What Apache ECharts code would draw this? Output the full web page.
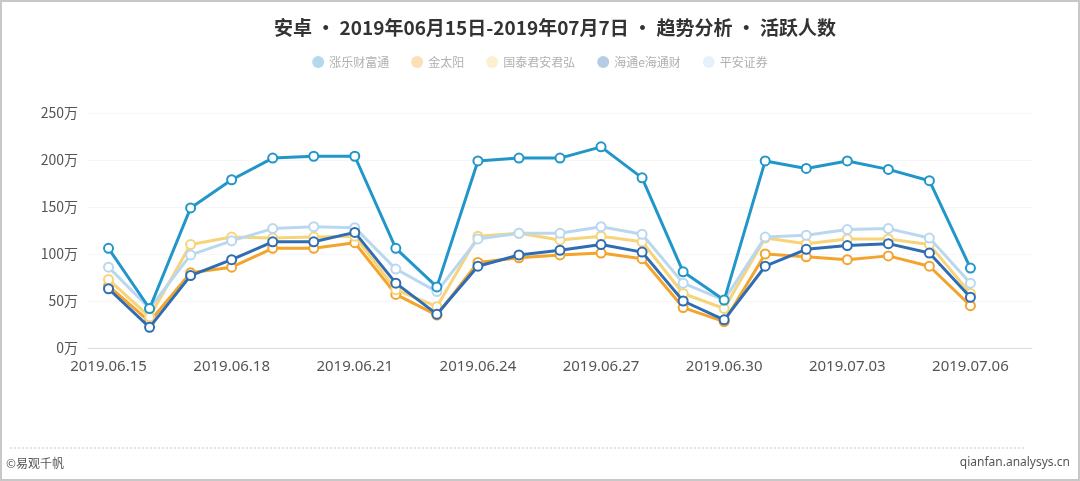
<!DOCTYPE html>
<html>
<head>
<meta charset="utf-8">
<script src="https://cdn.jsdelivr.net/npm/echarts@6/dist/echarts.min.js"></script>
<style>
  html, body { margin: 0; padding: 0; background: #fff; }
  #chart { width: 1080px; height: 481px; }
</style>
</head>
<body>
<div id="chart"></div>
<script>
// 日期（最后一天无数据）
var dates = ['2019.06.15','2019.06.16','2019.06.17','2019.06.18','2019.06.19','2019.06.20','2019.06.21',
  '2019.06.22','2019.06.23','2019.06.24','2019.06.25','2019.06.26','2019.06.27','2019.06.28','2019.06.29',
  '2019.06.30','2019.07.01','2019.07.02','2019.07.03','2019.07.04','2019.07.05','2019.07.06','2019.07.07'];

var names = ['涨乐财富通', '金太阳', '国泰君安君弘', '海通e海通财', '平安证券'];
var colors = ['#2196c9', '#f3a42c', '#f7d47a', '#2f6db3', '#b9d8f0'];

// 活跃人数（万）
var zhangle = [106,42,149,179,202,204,204,106,65,199,202,202,214,181,81,51,199,191,199,190,178,85];
var jintaiyang = [66,28,80,86,106,106,112,57,35,91,96,99,101,95,43,28,100,97,94,98,87,45];
var junhong = [73,33,110,118,117,118,119,62,44,119,122,115,119,113,58,42,117,111,116,116,110,58];
var haitong = [63,22,77,94,113,113,123,69,36,87,99,104,110,102,50,30,87,105,109,111,101,54];
var pingan = [86,42,99,114,127,129,128,84,60,116,122,122,129,121,69,51,118,120,126,127,117,69];

var seriesData = [zhangle, jintaiyang, junhong, haitong, pingan];
var zOrder = [5, 1, 2, 4, 3];

var myChart = echarts.init(document.getElementById('chart'));

var series = names.map(function (n, i) {
  return {
    name: n,
    type: 'line',
    data: seriesData[i],
    z: zOrder[i],
    symbol: 'emptyCircle',
    symbolSize: 9,
    lineStyle: { width: 3, color: colors[i] },
    itemStyle: { color: colors[i], borderWidth: 2 }
  };
});

myChart.setOption({
  animation: false,
  color: colors,
  title: {
    text: '安卓 • 2019年06月15日-2019年07月7日 • 趋势分析 • 活跃人数',
    left: 550,
    textAlign: 'center',
    top: 13,
    textStyle: {
      color: '#333',
      fontSize: 19,
      fontWeight: 'bold',
      fontFamily: 'Noto Sans CJK SC'
    }
  },
  legend: {
    data: names,
    top: 51,
    left: 'center',
    icon: 'circle',
    itemWidth: 12,
    itemHeight: 12,
    itemGap: 22,
    itemStyle: { opacity: 0.35 },
    textStyle: { color: '#b0b0b0', fontSize: 12, fontFamily: 'Noto Sans CJK SC' }
  },
  grid: {
    left: 88,
    right: 48,
    top: 113,
    bottom: 133
  },
  xAxis: {
    type: 'category',
    data: dates,
    boundaryGap: true,
    axisLine: { lineStyle: { color: '#dcdcdc' } },
    axisTick: { interval: 2, length: 5, lineStyle: { color: '#dcdcdc' } },
    axisLabel: {
      interval: 2,
      color: '#555',
      fontSize: 15,
      margin: 11,
      fontFamily: 'Noto Sans'
    }
  },
  yAxis: {
    type: 'value',
    min: 0,
    max: 250,
    interval: 50,
    axisLine: { show: false },
    axisTick: { show: false },
    splitLine: { lineStyle: { color: '#f6f6f6' } },
    axisLabel: {
      formatter: '{value}万',
      color: '#555',
      fontSize: 14,
      margin: 10,
      fontFamily: 'Noto Sans CJK SC'
    }
  },
  graphic: [
    {
      type: 'rect',
      shape: { x: 1, y: 1, width: 1078, height: 479 },
      style: { fill: 'none', stroke: '#c8c8c8', lineWidth: 2 },
      silent: true
    },
    {
      type: 'line',
      shape: { x1: 10, y1: 448, x2: 1025, y2: 448 },
      style: { stroke: '#c8c8c8', lineWidth: 1, lineDash: [2, 2] },
      silent: true
    },
    {
      type: 'text',
      left: 6,
      top: 457,
      style: { text: '©易观千帆', fill: '#555', fontSize: 12, fontFamily: 'Noto Sans CJK SC' }
    },
    {
      type: 'text',
      right: 10,
      top: 457,
      style: { text: 'qianfan.analysys.cn', fill: '#555', fontSize: 12, fontFamily: 'Noto Sans' }
    }
  ],
  series: series
});
</script>
</body>
</html>
